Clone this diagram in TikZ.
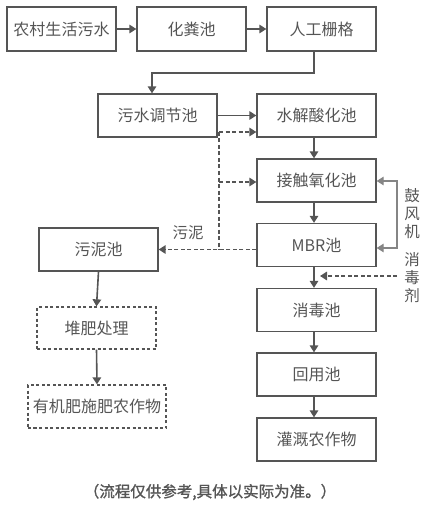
\documentclass[tikz,border=0pt]{standalone}
\usepackage{fontspec}
\setmainfont{Noto Sans CJK SC}
\newfontfamily\capfont[FakeBold=1.2]{Noto Sans CJK SC}
\usetikzlibrary{arrows.meta,calc}
\definecolor{ln}{HTML}{555555}
\definecolor{tx}{HTML}{555555}
\definecolor{lnb}{HTML}{858585}
\begin{document}
\begin{tikzpicture}[x=1bp,y=-1bp,
  box/.style={draw=ln,line width=1.3bp,minimum width=119bp,minimum height=43bp,inner sep=0pt,text=tx,font=\fontsize{16bp}{19bp}\selectfont},
  dbox/.style={box,dash pattern=on 3bp off 2.5bp},
  arr/.style={draw=ln,line width=1.6bp,-{Triangle[length=7bp,width=8.5bp]}},
  darr/.style={arr,dash pattern=on 4bp off 2.5bp},
  dline/.style={draw=ln,line width=1.6bp,dash pattern=on 4bp off 2.5bp},
  garr/.style={draw=lnb,line width=1.3bp,{Triangle[length=7bp,width=8.5bp]}-{Triangle[length=7bp,width=8.5bp]}},
  lbl/.style={text=tx,inner sep=0pt,font=\fontsize{15.5bp}{18bp}\selectfont}]
\useasboundingbox (0,0) rectangle (435,517);
% top row
\node[box,minimum width=109bp,minimum height=44bp] (b1) at (61.5,29) {农村生活污水};
\node[box,minimum width=109bp,minimum height=44bp] (b2) at (191.5,29) {化粪池};
\node[box,minimum width=109bp,minimum height=44bp] (b3) at (321.5,29) {人工栅格};
% main column
\node[box] (b4) at (157.5,115.5) {污水调节池};
\node[box] (b5) at (316.5,115.5) {水解酸化池};
\node[box] (b6) at (316.5,180.5) {接触氧化池};
\node[box] (b7) at (316.5,245) {MBR池};
\node[box] (b8) at (316.5,310) {消毒池};
\node[box] (b9) at (316.5,374.5) {回用池};
\node[box] (b10) at (316.5,439.5) {灌溉农作物};
% sludge column
\node[box] (s1) at (98.5,249.5) {污泥池};
\node[dbox,minimum height=42bp] (s2) at (96.5,328) {堆肥处理};
\node[dbox,minimum width=138bp] (s3) at (97,406.5) {有机肥施肥农作物};
% helper coordinates
\coordinate (mx) at (314,0);
\coordinate (t1) at (314,73);
\coordinate (t2) at (152,73);
\coordinate (d1) at (219,132);
\coordinate (d2) at (219,182);
\coordinate (d3) at (219,249.5);
\coordinate (g1) at (397,181);
\coordinate (g2) at (397,248);
\coordinate (x1) at (397,276);
\coordinate (x2) at (320,276);
% connectors
\draw[arr] (b1.east) -- (b2.west);
\draw[arr] (b2.east) -- (b3.west);
\draw[arr] (b3.south-|t1) -- (t1) -- (t2) -- (b4.north-|t2);
\draw[arr] (b4.east) -- (b5.west);
\draw[arr] (b5.south-|mx) -- (b6.north-|mx);
\draw[arr] (b6.south-|mx) -- (b7.north-|mx);
\draw[arr] (b7.south-|mx) -- (b8.north-|mx);
\draw[arr] (b8.south-|mx) -- (b9.north-|mx);
\draw[arr] (b9.south-|mx) -- (b10.north-|mx);
\draw[dline] (d1) -- (d3);
\draw[darr] (d1) -- (d1-|b5.west);
\draw[darr] (d2) -- (d2-|b6.west);
\draw[darr] (b7.west|-s1.east) -- (s1.east);
\draw[garr] (b6.east|-g1) -- (g1) -- (g2) -- (g2-|b7.east);
\draw[darr] (x1) -- (x2);
\draw[arr] (s1.south) -- (s2.north);
\draw[arr] (s2.south) -- (s3.north);
% labels
\node[lbl] (l1) at (188,233) {污泥};
\node[lbl,align=center] (l2) at (412,214) {鼓\\风\\机};
\node[lbl,align=center] (l3) at (412,278) {消\\毒\\剂};
\node[lbl,font=\capfont\fontsize{15.5bp}{18bp}\selectfont] (cap) at (210,492) {（流程仅供参考,具体以实际为准。）};
\end{tikzpicture}
\end{document}
